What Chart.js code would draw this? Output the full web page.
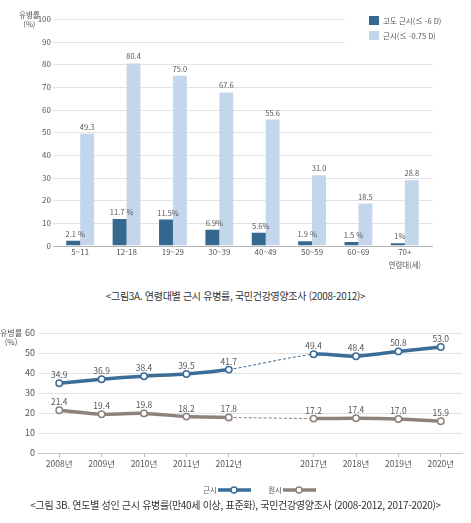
<!DOCTYPE html>
<html lang="ko">
<head>
  <meta charset="UTF-8" />
  <title>근시 유병률</title>
  <script src="https://cdn.jsdelivr.net/npm/chart.js"></script>
  <style>
    * { box-sizing: border-box; margin: 0; padding: 0; }
    body {
      width: 471px;
      height: 523px;
      background: #fff;
      position: relative;
      overflow: hidden;
      font-family: "Noto Sans CJK KR", "Noto Sans", sans-serif;
      color: #555;
    }
    canvas { position: absolute; left: 0; }
    #chartA { top: 0; }
    #chartB { top: 320px; }
    .ytitle {
      position: absolute;
      font-size: 7.5px;
      line-height: 9px;
      text-align: center;
      color: #555;
    }
    .caption {
      position: absolute;
      left: 0;
      width: 471px;
      text-align: center;
      font-size: 10px;
      letter-spacing: -0.3px;
      color: #333;
    }
  </style>
</head>
<body>
  <canvas id="chartA" width="471" height="280"></canvas>
  <canvas id="chartB" width="471" height="180"></canvas>

  <div class="ytitle" style="left:19px; top:10px;">유병률<br>(%)</div>
  <div class="ytitle" style="left:0px; top:328px; font-size:8px;">유병률<br>(%)</div>

  <div class="caption" style="top:288px;">&lt;그림3A. 연령대별 근시 유병률, 국민건강영양조사 (2008-2012)&gt;</div>
  <div class="caption" style="top:497px;">&lt;그림 3B. 연도별 성인 근시 유병률(만40세 이상, 표준화), 국민건강영양조사 (2008-2012, 2017-2020)&gt;</div>

<script>
  // 그림 3A
  const ageGroups = ["5~11", "12-18", "19~29", "30~39", "40~49", "50~59", "60~69", "70+"];
  const highMyopia = [2.1, 11.7, 11.5, 6.9, 5.6, 1.9, 1.5, 1.0];
  const highMyopiaLabels = ["2.1 %", "11.7 %", "11.5%", "6.9%", "5.6%", "1.9 %", "1.5 %", "1%"];
  const myopia = [49.3, 80.4, 75.0, 67.6, 55.6, 31.0, 18.5, 28.8];
  const myopiaLabels = ["49.3", "80.4", "75.0", "67.6", "55.6", "31.0", "18.5", "28.8"];

  // 그림 3B (빈 칸은 2013-2016 공백)
  const years = ["2008년", "2009년", "2010년", "2011년", "2012년", "", "2017년", "2018년", "2019년", "2020년"];
  const myopiaByYear = [34.9, 36.9, 38.4, 39.5, 41.7, null, 49.4, 48.4, 50.8, 53.0];
  const hyperopiaByYear = [21.4, 19.4, 19.8, 18.2, 17.8, null, 17.2, 17.4, 17.0, 15.9];

  const FONT = "'Noto Sans CJK KR', 'Noto Sans', sans-serif";
  const darkBlue = "#35688f";
  const lightBlue = "#c3d6ec";
  const lineBlue = "#3a6d98";
  const lineGray = "#8d837c";

  Chart.defaults.font.family = FONT;
  Chart.defaults.color = "#555";

  // 가로 눈금선: 플롯 영역보다 조금 넓게, 범례 자리(90, 100)는 짧게
  const wideGrid = {
    id: "wideGrid",
    beforeDatasetsDraw(chart) {
      const ctx = chart.ctx;
      const ys = chart.scales.y;
      const left = chart.chartArea.left - 4;
      const right = chart.chartArea.right + 5;
      ctx.save();
      ctx.lineWidth = 1;
      ys.ticks.forEach(t => {
        const y = Math.round(ys.getPixelForValue(t.value)) + 0.5;
        ctx.strokeStyle = t.value === 0 ? "#b5b5b5" : "#e2e2e2";
        ctx.beginPath();
        ctx.moveTo(left, y);
        ctx.lineTo(t.value >= 90 ? 345 : right, y);
        ctx.stroke();
      });
      ctx.restore();
    }
  };

  const barLabels = {
    id: "barLabels",
    afterDatasetsDraw(chart) {
      const ctx = chart.ctx;
      const texts = [highMyopiaLabels, myopiaLabels];
      ctx.save();
      ctx.font = "7.5px " + FONT;
      ctx.fillStyle = "#555";
      ctx.textAlign = "center";
      ctx.textBaseline = "bottom";
      chart.data.datasets.forEach((ds, i) => {
        chart.getDatasetMeta(i).data.forEach((bar, j) => {
          ctx.fillText(texts[i][j], bar.x + (i === 0 ? 2 : 0), bar.y - 3);
        });
      });
      // 연령대(세)
      const xs = chart.scales.x;
      ctx.textBaseline = "middle";
      ctx.fillText("연령대(세)", xs.getPixelForValue(ageGroups.length - 1), 265);

      // 범례
      chart.data.datasets.forEach((ds, i) => {
        const y = 16 + i * 15;
        ctx.fillStyle = ds.backgroundColor;
        ctx.fillRect(369, y, 10, 9);
        ctx.fillStyle = "#555";
        ctx.textAlign = "left";
        ctx.font = "7.5px " + FONT;
        ctx.fillText(ds.label, 383, y + 5);
      });
      ctx.restore();
    }
  };

  new Chart(document.getElementById("chartA"), {
    type: "bar",
    data: {
      labels: ageGroups,
      datasets: [
        { label: "고도 근시(≤ -6 D)", data: highMyopia, backgroundColor: darkBlue },
        { label: "근시(≤ -0.75 D)", data: myopia, backgroundColor: lightBlue }
      ]
    },
    options: {
      responsive: false,
      animation: false,
      layout: { padding: { left: 0, right: 43, top: 19, bottom: 14.5 } },
      datasets: { bar: { categoryPercentage: 0.6, barPercentage: 1.0 } },
      plugins: { legend: { display: false }, tooltip: { enabled: false } },
      scales: {
        x: {
          grid: { display: false, drawTicks: false },
          border: { display: false },
          ticks: { font: { size: 8 }, padding: 2, color: "#555" },
          afterFit(s) { s.height = 20; }
        },
        y: {
          min: 0,
          max: 100,
          ticks: { stepSize: 10, font: { size: 8 }, padding: 6, color: "#555" },
          grid: { display: false, drawTicks: false },
          border: { display: false },
          afterFit(s) { s.width = 57; }
        }
      }
    },
    plugins: [wideGrid, barLabels]
  });

  // 공백(2013-2016) 구간은 가는 점선
  const gapSeg = ctx => ctx.p0.skip || ctx.p1.skip;

  const lineLabels = {
    id: "lineLabels",
    afterDatasetsDraw(chart) {
      const ctx = chart.ctx;
      ctx.save();
      ctx.font = "8.5px " + FONT;
      ctx.fillStyle = "#555";
      ctx.textAlign = "center";
      ctx.textBaseline = "bottom";
      chart.data.datasets.forEach((ds, i) => {
        chart.getDatasetMeta(i).data.forEach((pt, j) => {
          if (ds.data[j] === null) return;
          ctx.fillText(ds.data[j].toFixed(1), pt.x, pt.y - 4);
        });
      });
      // 범례
      const items = [
        { text: chart.data.datasets[0].label, color: lineBlue, x: 218 },
        { text: chart.data.datasets[1].label, color: lineGray, x: 283 }
      ];
      const y = 170;
      items.forEach(it => {
        ctx.fillStyle = "#555";
        ctx.textAlign = "right";
        ctx.textBaseline = "middle";
        ctx.font = "7.5px " + FONT;
        ctx.fillText(it.text, it.x - 1, y);
        ctx.strokeStyle = it.color;
        ctx.lineWidth = 3.5;
        ctx.beginPath();
        ctx.moveTo(it.x, y);
        ctx.lineTo(it.x + 33, y);
        ctx.stroke();
        ctx.fillStyle = "#fff";
        ctx.lineWidth = 1.5;
        ctx.beginPath();
        ctx.arc(it.x + 16, y, 3, 0, Math.PI * 2);
        ctx.fill();
        ctx.stroke();
      });
      ctx.restore();
    }
  };

  new Chart(document.getElementById("chartB"), {
    type: "line",
    data: {
      labels: years,
      datasets: [
        { label: "근시", data: myopiaByYear, borderColor: lineBlue },
        { label: "원시", data: hyperopiaByYear, borderColor: lineGray }
      ]
    },
    options: {
      responsive: false,
      animation: false,
      layout: { padding: { left: 0, right: 9, top: 13, bottom: 25 } },
      datasets: {
        line: {
          borderWidth: 3.5,
          tension: 0.25,
          spanGaps: true,
          pointRadius: 3.2,
          pointBorderWidth: 1.5,
          pointBackgroundColor: "#fff",
          segment: {
            borderDash: ctx => (gapSeg(ctx) ? [3, 2] : undefined),
            borderWidth: ctx => (gapSeg(ctx) ? 1 : undefined)
          }
        }
      },
      plugins: { legend: { display: false }, tooltip: { enabled: false } },
      scales: {
        x: {
          offset: true,
          grid: {
            drawOnChartArea: false,
            tickLength: 4,
            tickColor: c => (c.tick && years[c.tick.value] ? "#bbb" : "rgba(0,0,0,0)")
          },
          border: { color: "#c8c8c8" },
          ticks: { font: { size: 8.5 }, padding: 2, color: "#555", autoSkip: false, maxRotation: 0 },
          afterFit(s) { s.height = 22; }
        },
        y: {
          min: 0,
          max: 60,
          ticks: { stepSize: 10, font: { size: 9 }, padding: 3, color: "#555" },
          grid: {
            drawTicks: false,
            color: c => (c.tick && c.tick.value === 0 ? "#c8c8c8" : "#e2e2e2")
          },
          border: { display: false },
          afterFit(s) { s.width = 38; }
        }
      }
    },
    plugins: [lineLabels]
  });
</script>
</body>
</html>
